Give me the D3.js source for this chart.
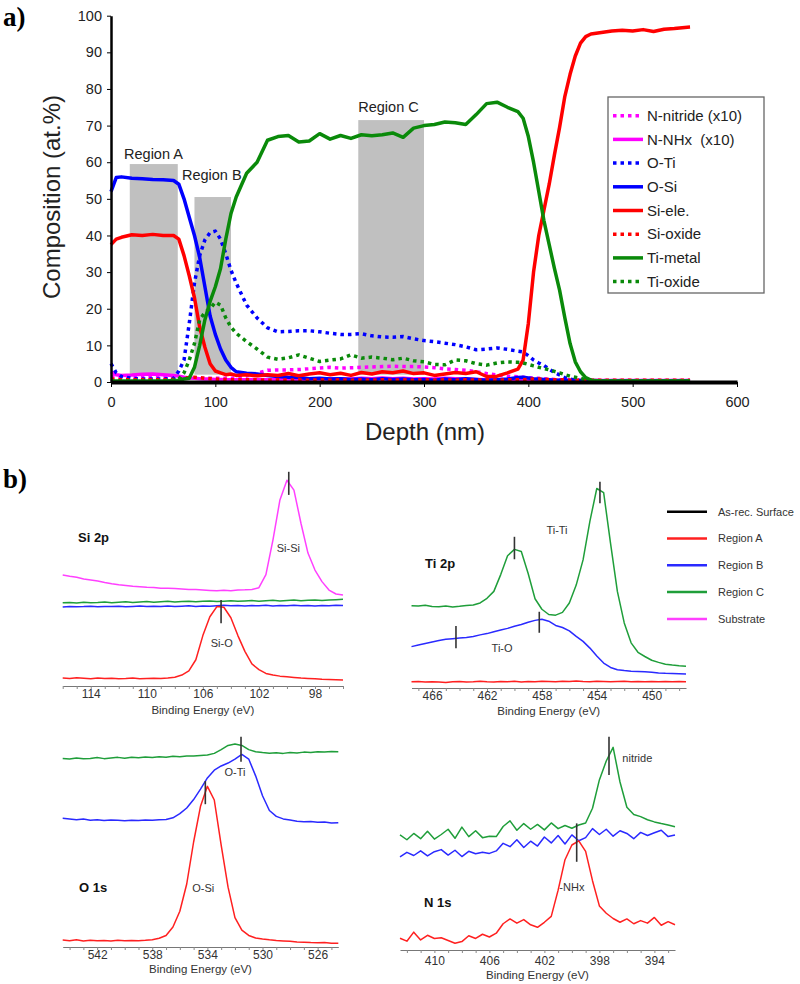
<!DOCTYPE html>
<html>
<head>
<meta charset="utf-8">
<script src="https://cdn.jsdelivr.net/npm/d3@7"></script>
<style>
  body { margin: 0; background: #fff; }
  svg { display: block; font-family: 'Liberation Sans', Arial, sans-serif; }
</style>
</head>
<body>
<div id="chart"></div>
<script>
// ---- a) depth profile ----
const depth = [0, 5, 10, 20, 30, 40, 50, 60,
  65, 70, 75, 80, 85, 90, 95, 100, 105, 110, 115, 120,
  130, 140, 150, 160, 170, 180, 190, 200, 210, 220, 230, 240, 250, 260, 270, 280, 290, 300, 310, 320, 330, 340, 350, 360, 370, 380, 390,
  395, 400, 405, 410, 415, 420, 425, 430, 435, 440, 445, 450, 455, 460,
  470, 480, 490, 500, 510, 520, 530, 540, 550, 555];

const nNitride = [1.5, 1.3, 1.2, 1.2, 1.2, 1.2, 1.2, 1.2,
  1.0, 1.0, 1.0, 1.0, 1.0, 1.0, 1.0, 1.0, 1.0, 1.0, 1.0, 1.2,
  1.6, 2.4, 3.2, 3.3, 3.3, 3.4, 3.6, 3.8, 4.0, 3.8, 3.9, 4.0, 4.1, 4.2, 4.3, 4.2, 4.2, 4.1, 3.9, 3.6, 3.4, 3.2, 2.8, 2.3, 1.9, 1.6, 1.4,
  1.3, 1.2, 1.1, 1.0, 0.9, 0.8, 0.7, 0.6, 0.5, 0.5, 0.4, 0.4, 0.4, 0.4,
  0.4, 0.4, 0.4, 0.4, 0.4, 0.4, 0.4, 0.4, 0.4, 0.4];
const nNHx = [2.8, 2.0, 1.8, 1.9, 2.1, 2.2, 2.0, 1.8,
  1.6, 1.3, 1.1, 1.0, 0.9, 0.8, 0.8, 0.7, 0.7, 0.6, 0.6, 0.6,
  0.6, 0.7, 0.6, 0.7, 0.8, 0.7, 0.8, 0.9, 0.8, 0.9, 0.8, 1.0, 0.9, 1.1, 0.9, 1.0, 0.8, 0.9, 0.8, 1.0, 0.9, 0.8, 0.7, 0.6, 0.6, 0.5, 0.5,
  0.5, 0.5, 0.5, 0.5, 0.5, 0.5, 0.5, 0.5, 0.5, 0.5, 0.5, 0.5, 0.5, 0.5,
  0.4, 0.4, 0.4, 0.4, 0.4, 0.4, 0.4, 0.4, 0.4, 0.4];
const oTi = [5.0, 2.5, 1.5, 1.0, 0.8, 0.8, 0.8, 1.0,
  3.0, 6.0, 16.0, 27.0, 34.5, 38.8, 40.8, 41.2, 39.0, 35.0, 30.5, 27.0,
  21.0, 17.5, 14.8, 13.7, 13.8, 14.0, 14.0, 13.7, 13.3, 13.0, 13.0, 13.2, 12.6, 12.3, 12.2, 12.4, 11.8, 11.3, 11.0, 10.6, 10.2, 9.6, 8.8, 9.0, 9.3, 8.9, 8.4,
  8.2, 7.2, 6.0, 5.2, 4.5, 3.5, 2.6, 1.9, 1.2, 0.8, 0.5, 0.4, 0.3, 0.3,
  0.3, 0.3, 0.3, 0.3, 0.3, 0.3, 0.3, 0.3, 0.3, 0.3];
const oSi = [52.0, 55.8, 56.0, 55.6, 55.5, 55.3, 55.2, 55.0,
  54.0, 50.0, 45.0, 40.0, 34.0, 26.0, 18.0, 13.0, 9.0, 6.0, 4.0, 2.8,
  2.4, 2.2, 1.8, 1.5, 1.3, 1.2, 0.9, 1.0, 0.8, 0.9, 0.7, 0.8, 0.6, 0.9, 0.7, 0.8, 0.6, 0.7, 0.5, 0.8, 0.6, 0.9, 0.7, 0.5, 0.6, 0.8, 1.2,
  1.3, 1.1, 0.9, 0.8, 0.7, 0.6, 0.5, 0.5, 0.4, 0.4, 0.3, 0.3, 0.3, 0.3,
  0.3, 0.3, 0.3, 0.3, 0.3, 0.3, 0.3, 0.3, 0.3, 0.3];
const siEle = [37.5, 39.0, 39.5, 40.2, 40.0, 40.3, 40.0, 40.0,
  39.0, 34.5, 29.0, 23.0, 15.0, 9.5, 5.0, 3.0, 2.5, 2.0, 2.2, 1.8,
  2.0, 1.7, 2.0, 1.8, 2.3, 1.7, 2.2, 2.5, 2.0, 2.4, 1.8, 2.6, 2.2, 2.8, 2.5, 3.0, 2.3, 2.5, 1.8, 2.2, 2.6, 2.3, 2.8, 1.5, 1.6, 2.5, 3.5,
  6.0, 16.0, 30.0, 40.0, 47.0, 54.0, 62.0, 69.6, 78.0, 84.0, 89.0, 92.5, 94.3, 95.0,
  95.4, 95.8, 96.0, 95.8, 96.2, 95.7, 96.3, 96.5, 96.8, 96.9];
const siOxide = [0.8, 0.7, 0.6, 0.6, 0.6, 0.6, 0.6, 0.7,
  0.8, 1.0, 1.2, 1.3, 1.2, 1.0, 0.9, 0.8, 0.7, 0.7, 0.6, 0.6,
  0.6, 0.6, 0.5, 0.6, 0.5, 0.6, 0.5, 0.6, 0.5, 0.6, 0.5, 0.6, 0.5, 0.6, 0.5, 0.6, 0.5, 0.6, 0.5, 0.6, 0.5, 0.6, 0.5, 0.6, 0.5, 0.6, 0.6,
  0.6, 0.7, 0.8, 0.8, 0.7, 0.7, 0.6, 0.6, 0.6, 0.5, 0.5, 0.5, 0.5, 0.5,
  0.5, 0.5, 0.5, 0.5, 0.5, 0.5, 0.5, 0.5, 0.5, 0.5];
const tiMetal = [0.3, 0.3, 0.3, 0.3, 0.3, 0.3, 0.3, 0.4,
  0.5, 0.8, 1.0, 4.0, 10.0, 17.0, 22.0, 26.0, 31.0, 39.0, 46.0, 50.5,
  57.0, 60.0, 66.0, 67.0, 67.3, 65.5, 65.8, 67.8, 66.3, 67.3, 66.5, 67.5, 67.2, 67.5, 68.0, 66.8, 69.3, 70.0, 70.3, 71.0, 70.8, 70.3, 73.0, 76.0, 76.4, 75.0, 73.8,
  72.0, 67.0, 60.0, 52.0, 44.0, 37.5, 31.0, 25.0, 17.5, 10.5, 5.5, 2.8, 1.2, 0.5,
  0.3, 0.3, 0.3, 0.3, 0.3, 0.3, 0.3, 0.3, 0.3, 0.3];
const tiOxide = [0.3, 0.3, 0.3, 0.3, 0.3, 0.3, 0.3, 0.5,
  0.8, 2.5, 6.0, 10.5, 17.0, 19.0, 20.0, 21.8, 21.0, 17.5, 15.0, 13.3,
  11.0, 9.0, 6.8, 6.2, 6.6, 7.4, 6.5, 5.6, 6.0, 6.3, 7.4, 6.5, 6.8, 6.5, 6.1, 6.5, 5.8, 5.5, 4.8, 4.7, 6.0, 5.8, 5.0, 4.6, 5.2, 5.5, 5.4,
  5.2, 4.8, 4.4, 4.0, 3.7, 3.3, 2.9, 2.5, 2.0, 1.6, 1.3, 1.0, 0.6, 0.4,
  0.3, 0.3, 0.3, 0.3, 0.3, 0.3, 0.3, 0.3, 0.3, 0.3];

const seriesNames = ['N-nitride (x10)', 'N-NHx  (x10)', 'O-Ti', 'O-Si', 'Si-ele.', 'Si-oxide', 'Ti-metal', 'Ti-oxide'];
const seriesValues = [nNitride, nNHx, oTi, oSi, siEle, siOxide, tiMetal, tiOxide];
const seriesColors = ['#ff00ff', '#ff00ff', '#0000ff', '#0000ff', '#ff0000', '#ff0000', '#0a8a0a', '#0a8a0a'];
const seriesDotted = [true, false, true, false, false, true, false, true];

const regionNames = ['Region A', 'Region B', 'Region C'];
const regionStart = [18, 80, 237];
const regionEnd = [64, 115, 300];
const regionTop = [59.5, 50.5, 71.5];
const regionLabelAt = [[12.5, 60.9], [68, 55.1], [237, 73.8]];

const depthTicks = [0, 100, 200, 300, 400, 500, 600];
const compTicks = [0, 10, 20, 30, 40, 50, 60, 70, 80, 90, 100];

// ---- b) XPS spectra ----
const siEnergy = [116, 115.5, 115, 114.5, 114, 113.5, 113, 112.5, 112, 111.5, 111, 110.5, 110, 109.5, 109, 108.5, 108, 107.5, 107, 106.5,
  106, 105.5, 105, 104.5, 104, 103.5, 103, 102.5, 102, 101.5, 101, 100.5, 100, 99.5, 99, 98.5, 98, 97.5, 97, 96.5, 96];
const siRegionA = [3.8, 3.6, 3.9, 3.7, 3.5, 3.8, 3.6, 3.7, 3.5, 3.6, 3.8, 3.5, 3.6, 3.7, 3.6, 3.8, 4.2, 5.2, 7.2, 12.5,
  24.0, 33.0, 37.8, 37.5, 32.5, 24.0, 16.5, 10.5, 7.8, 6.0, 5.2, 4.7, 4.4, 4.1, 3.8, 3.6, 3.4, 3.2, 3.1, 3.0, 2.9];
const siRegionB = [37.6, 37.9, 37.7, 37.8, 38.0, 37.7, 37.9, 37.8, 38.0, 37.7, 37.9, 38.1, 37.8, 38.0, 37.9, 38.1, 37.8, 38.0, 38.2, 37.9,
  38.1, 38.0, 38.2, 38.4, 38.2, 38.3, 38.1, 38.3, 38.2, 38.4, 38.1, 38.3, 38.2, 38.4, 38.2, 38.3, 38.1, 38.3, 38.2, 38.4, 38.3];
const siRegionC = [39.6, 39.8, 39.5, 39.9, 39.7, 39.8, 40.0, 39.7, 39.9, 40.1, 39.8, 40.0, 40.2, 39.9, 40.1, 40.3, 40.0, 40.2, 40.4, 40.1,
  40.3, 40.5, 40.2, 40.4, 40.6, 40.3, 40.5, 40.7, 40.4, 40.6, 40.8, 40.5, 40.7, 40.9, 40.6, 40.8, 41.0, 40.7, 40.9, 41.1, 41.3];
const siSubstrate = [52.9, 52.3, 51.8, 51.0, 50.5, 50.0, 49.3, 48.7, 48.2, 47.9, 47.5, 47.3, 47.0, 46.9, 46.6, 46.6, 46.4, 46.2, 46.0, 45.9,
  45.7, 45.5, 45.3, 45.6, 45.4, 45.7, 45.8, 46.0, 46.8, 53.0, 69.5, 88.6, 98.0, 93.3, 77.5, 63.3, 55.2, 49.7, 45.7, 43.8, 43.3];

const tiEnergy = [467.5, 467, 466.5, 466, 465.5, 465, 464.5, 464, 463.5, 463, 462.5, 462, 461.5, 461, 460.5, 460, 459.5, 459, 458.5, 458,
  457.5, 457, 456.5, 456, 455.5, 455, 454.5, 454, 453.5, 453, 452.5, 452, 451.5, 451, 450.5, 450, 449.5, 449, 448.5, 448, 447.5];
const tiRegionA = [3.0, 3.1, 2.9, 3.0, 2.8, 2.6, 3.0, 3.1, 2.9, 3.0, 3.2, 3.0, 2.9, 3.1, 3.0, 3.2, 2.9, 3.1, 3.0, 3.2,
  3.1, 3.0, 3.2, 3.1, 3.3, 3.1, 3.0, 3.2, 3.1, 3.0, 3.1, 3.2, 3.0, 3.1, 3.0, 3.1, 3.0, 3.1, 3.0, 3.1, 3.0];
const tiRegionB = [19.7, 20.5, 21.2, 21.9, 22.6, 23.2, 23.5, 23.8, 24.1, 24.5, 25.3, 25.9, 26.8, 27.6, 28.4, 29.4, 30.2, 31.3, 32.2, 32.7,
  31.8, 29.8, 28.8, 27.2, 24.6, 22.2, 19.0, 15.2, 11.9, 9.8, 8.7, 8.3, 8.0, 7.9, 7.7, 7.5, 7.2, 7.0, 6.9, 6.8, 6.7];
const tiRegionC = [39.2, 39.0, 39.4, 38.8, 38.7, 39.1, 38.6, 38.9, 39.3, 39.5, 40.5, 42.7, 46.0, 54.0, 63.0, 66.0, 65.0, 54.5, 42.5, 37.5,
  35.0, 34.7, 36.0, 40.5, 49.0, 61.0, 79.5, 95.0, 93.0, 69.0, 46.0, 31.0, 21.5, 17.0, 15.0, 13.2, 12.2, 11.3, 10.9, 10.6, 10.4];

const oEnergy = [544.5, 544, 543.5, 543, 542.5, 542, 541.5, 541, 540.5, 540, 539.5, 539, 538.5, 538, 537.5, 537, 536.5, 536, 535.5, 535,
  534.5, 534, 533.5, 533, 532.5, 532, 531.5, 531, 530.5, 530, 529.5, 529, 528.5, 528, 527.5, 527, 526.5, 526, 525.5, 525, 524.5];
const oRegionA = [3.3, 3.0, 3.4, 2.9, 3.2, 3.0, 3.1, 2.9, 3.2, 3.0, 3.1, 3.0, 3.2, 3.5, 4.2, 5.5, 9.5, 17.0, 30.0, 50.0,
  67.0, 76.5, 70.0, 48.5, 28.5, 14.0, 8.0, 5.5, 4.3, 3.8, 3.4, 3.1, 2.9, 2.7, 2.4, 2.3, 2.1, 2.0, 2.1, 1.8, 1.8];
const oRegionB = [61.3, 61.0, 60.6, 60.9, 60.4, 60.6, 60.2, 60.5, 60.3, 60.1, 60.4, 60.2, 60.5, 60.3, 60.6, 60.7, 61.5, 63.5, 66.2, 70.2,
  75.2, 80.5, 84.2, 86.2, 87.6, 89.5, 91.7, 89.5, 81.5, 72.0, 65.0, 62.2, 61.0, 60.5, 59.9, 59.6, 59.8, 59.4, 59.5, 59.0, 59.2];
const oRegionC = [89.8, 89.5, 90.0, 89.6, 89.8, 90.2, 89.7, 90.0, 90.3, 89.9, 90.4, 90.1, 90.5, 90.2, 90.6, 90.4, 90.8, 90.6, 91.0, 90.9,
  91.2, 91.4, 92.2, 94.0, 96.0, 96.7, 96.0, 94.0, 93.0, 92.6, 92.3, 92.5, 92.2, 92.6, 92.4, 92.8, 92.6, 93.0, 92.8, 93.1, 93.0];

const nEnergy = [412.5, 412, 411.5, 411, 410.5, 410, 409.5, 409, 408.5, 408, 407.5, 407, 406.5, 406, 405.5, 405, 404.5, 404, 403.5, 403,
  402.5, 402, 401.5, 401, 400.5, 400, 399.5, 399, 398.5, 398, 397.5, 397, 396.5, 396, 395.5, 395, 394.5, 394, 393.5, 393, 392.5];
const nRegionA = [5.6, 4.2, 8.5, 4.8, 7.0, 5.5, 5.8, 4.5, 3.2, 4.0, 6.8, 5.5, 7.5, 6.2, 8.0, 12.5, 14.8, 12.8, 14.5, 12.0,
  10.8, 13.2, 16.0, 28.5, 43.0, 50.0, 52.0, 47.0, 33.0, 21.0, 17.5, 15.0, 13.2, 14.8, 12.5, 14.0, 12.8, 15.5, 11.8, 13.5, 12.0];
const nRegionB = [44.4, 46.5, 45.0, 47.2, 44.8, 46.8, 47.8, 45.2, 47.5, 44.5, 47.0, 45.8, 46.5, 46.0, 47.2, 50.8, 49.2, 52.5, 48.8, 51.8,
  49.5, 53.8, 51.0, 54.5, 50.5, 54.8, 52.0, 53.5, 57.8, 55.0, 57.5, 54.2, 56.8, 55.5, 53.0, 56.0, 54.5, 55.8, 57.0, 54.0, 54.8];
const nRegionC = [54.8, 52.5, 55.5, 53.0, 56.5, 52.8, 55.0, 57.5, 53.2, 58.5, 54.0, 56.8, 53.5, 54.2, 54.0, 58.8, 61.5, 57.0, 60.2, 57.5,
  59.8, 57.2, 60.5, 57.8, 59.3, 58.0, 59.5, 60.5, 67.5, 81.0, 90.0, 96.5, 80.0, 68.0, 64.5, 63.5, 62.0, 61.0, 60.2, 59.5, 58.7];

// peak markers: [energy, low, high]
const siMarkers = [[99.87, 91, 102], [104.7, 29.9, 41]];
const tiMarkers = [[460.0, 61.3, 72.0], [453.77, 88.0, 98.2], [464.26, 18.9, 29.5], [458.19, 26.3, 36.3]];
const oMarkers = [[531.56, 88.2, 100.1], [534.15, 68.0, 79.0]];
const nMarkers = [[397.3, 83.3, 101.6], [399.65, 42.0, 60.3]];

// peak labels: [text, energy, level, anchor]
const siLabels = [['Si-Si', 99.9, 65.7, 'middle'], ['Si-O', 104.65, 20.5, 'middle']];
const tiLabels = [['Ti-Ti', 456.9, 75.2, 'middle'], ['Ti-O', 460.9, 18.9, 'middle']];
const oLabels = [['O-Ti', 532.0, 83.5, 'middle'], ['O-Si', 534.3, 28, 'middle']];
const nLabels = [['nitride', 396.33, 91.3, 'start'], ['-NHx', 400.0, 30.1, 'middle']];

const siTicks = [114, 110, 106, 102, 98];
const tiTicks = [466, 462, 458, 454, 450];
const oTicks = [542, 538, 534, 530, 526];
const nTicks = [410, 406, 402, 398, 394];

const specNames = ['As-rec. Surface', 'Region A', 'Region B', 'Region C', 'Substrate'];
const specColors = ['#000000', '#ff2020', '#2a2aff', '#1f9e3a', '#ff40ff'];

const width = 800;
const height = 984;

document.addEventListener('DOMContentLoaded', () => {
  app();
});

function drawProfile(svg) {
  const x = d3.scaleLinear().domain([0, 600]).range([111, 737]);
  const y = d3.scaleLinear().domain([0, 100]).range([382, 15.7]);

  svg.append('g')
    .selectAll('rect')
    .data(regionNames)
    .enter()
    .append('rect')
    .attr('x', (d, i) => x(regionStart[i]))
    .attr('width', (d, i) => x(regionEnd[i]) - x(regionStart[i]))
    .attr('y', (d, i) => y(regionTop[i]))
    .attr('height', (d, i) => y(2) - y(regionTop[i]))
    .attr('fill', '#c0c0c0');

  svg.append('g')
    .selectAll('text')
    .data(regionNames)
    .enter()
    .append('text')
    .attr('x', (d, i) => x(regionLabelAt[i][0]))
    .attr('y', (d, i) => y(regionLabelAt[i][1]))
    .attr('font-size', '14.5px')
    .attr('fill', '#222')
    .text((d) => d);

  const line = d3.line()
    .x((d, i) => x(depth[i]))
    .y((d) => y(d));

  svg.append('g')
    .selectAll('path')
    .data(seriesValues)
    .enter()
    .append('path')
    .attr('d', (d) => line(d))
    .attr('fill', 'none')
    .attr('stroke', (d, i) => seriesColors[i])
    .attr('stroke-width', 3.5)
    .attr('stroke-linejoin', 'round')
    .attr('stroke-dasharray', (d, i) => (seriesDotted[i] ? '3.5,4' : null));

  const yAxis = d3.axisLeft(y).tickValues(compTicks).tickSize(4).tickSizeOuter(0).tickPadding(5);
  const gy = svg.append('g')
    .attr('transform', 'translate(111,0)')
    .call(yAxis);
  gy.select('.domain').attr('stroke-width', 2.5);
  gy.selectAll('text').attr('font-size', '14.5px').attr('fill', '#222');

  const xAxis = d3.axisBottom(x).tickValues(depthTicks).tickSize(5).tickSizeOuter(0).tickPadding(10);
  const gx = svg.append('g')
    .attr('transform', 'translate(0,382)')
    .call(xAxis);
  gx.select('.domain').attr('stroke-width', 4);
  gx.selectAll('text').attr('font-size', '14.5px').attr('fill', '#222');

  svg.append('text')
    .attr('transform', 'translate(60,197) rotate(-90)')
    .attr('text-anchor', 'middle')
    .attr('font-size', '24px')
    .attr('fill', '#222')
    .text('Composition (at.%)');

  svg.append('text')
    .attr('x', 425)
    .attr('y', 440)
    .attr('text-anchor', 'middle')
    .attr('font-size', '24px')
    .attr('fill', '#222')
    .text('Depth (nm)');

  // legend
  const legend = svg.append('g');
  legend.append('rect')
    .attr('x', 608).attr('y', 97)
    .attr('width', 156).attr('height', 196)
    .attr('fill', '#fff')
    .attr('stroke', '#666')
    .attr('stroke-width', 1.3);
  const rows = legend.selectAll('g.row')
    .data(seriesNames)
    .enter()
    .append('g')
    .attr('class', 'row')
    .attr('transform', (d, i) => `translate(0,${115.7 + i * 23.7})`);
  rows.append('line')
    .attr('x1', 613).attr('x2', 643)
    .attr('stroke', (d, i) => seriesColors[i])
    .attr('stroke-width', 3.5)
    .attr('stroke-dasharray', (d, i) => (seriesDotted[i] ? '3.5,4' : null));
  rows.append('text')
    .attr('x', 647)
    .attr('dy', '0.35em')
    .attr('font-size', '15px')
    .attr('fill', '#222')
    .style('white-space', 'pre')
    .text((d) => d);
}

function drawSpectrum(svg, panel) {
  const xs = d3.scaleLinear().domain(panel.domain).range(panel.xRange);
  const ys = d3.scaleLinear().domain([0, 100]).range([panel.axisY, panel.axisY - 210]);
  const g = svg.append('g');

  const line = d3.line()
    .x((d, i) => xs(panel.energy[i]))
    .y((d) => ys(d));

  g.selectAll('path.spec')
    .data(panel.series)
    .enter()
    .append('path')
    .attr('class', 'spec')
    .attr('d', (d) => line(d.values))
    .attr('fill', 'none')
    .attr('stroke', (d) => d.color)
    .attr('stroke-width', 1.5)
    .attr('stroke-linejoin', 'round');

  g.selectAll('line.mark')
    .data(panel.markers)
    .enter()
    .append('line')
    .attr('class', 'mark')
    .attr('x1', (d) => xs(d[0]))
    .attr('x2', (d) => xs(d[0]))
    .attr('y1', (d) => ys(d[1]))
    .attr('y2', (d) => ys(d[2]))
    .attr('stroke', '#333')
    .attr('stroke-width', 1.6);

  g.selectAll('text.peak')
    .data(panel.labels)
    .enter()
    .append('text')
    .attr('class', 'peak')
    .attr('x', (d) => xs(d[1]))
    .attr('y', (d) => ys(d[2]))
    .attr('dy', '0.35em')
    .attr('text-anchor', (d) => d[3])
    .attr('font-size', '11px')
    .attr('fill', '#333')
    .text((d) => d[0]);

  const lo = Math.ceil(Math.min(...panel.domain));
  const hi = Math.floor(Math.max(...panel.domain));
  const minor = d3.range(lo, hi + 1, 1);
  const axis = d3.axisBottom(xs)
    .tickValues(minor)
    .tickSize(3)
    .tickSizeOuter(0)
    .tickPadding(panel.tickPad)
    .tickFormat((d) => (panel.ticks.includes(d) ? d : ''));
  const ga = g.append('g')
    .attr('transform', `translate(0,${panel.axisY})`)
    .call(axis);
  ga.select('.domain').attr('stroke', '#777').attr('stroke-width', 1.2);
  ga.selectAll('.tick line').attr('stroke', '#888');
  ga.selectAll('text').attr('font-size', '12px').attr('fill', '#333');

  g.append('text')
    .attr('x', (panel.xRange[0] + panel.xRange[1]) / 2)
    .attr('y', panel.axisY + panel.titleGap)
    .attr('text-anchor', 'middle')
    .attr('font-size', '11.5px')
    .attr('fill', '#333')
    .text('Binding Energy (eV)');

  g.append('text')
    .attr('x', panel.titleAt[0])
    .attr('y', panel.titleAt[1])
    .attr('dy', '0.35em')
    .attr('font-size', '13px')
    .attr('font-weight', 'bold')
    .attr('fill', '#111')
    .text(panel.title);
}

function app() {
  const svg = d3.select('#chart')
    .append('svg')
    .attr('width', width)
    .attr('height', height);

  svg.append('text')
    .attr('x', 3).attr('y', 26)
    .attr('font-family', "'Liberation Serif', serif")
    .attr('font-weight', 'bold')
    .attr('font-size', '27px')
    .text('a)');

  svg.append('text')
    .attr('x', 3).attr('y', 488)
    .attr('font-family', "'Liberation Serif', serif")
    .attr('font-weight', 'bold')
    .attr('font-size', '27px')
    .text('b)');

  drawProfile(svg);

  const red = specColors[1];
  const blue = specColors[2];
  const green = specColors[3];
  const magenta = specColors[4];

  drawSpectrum(svg, {
    title: 'Si 2p', titleAt: [78, 537],
    energy: siEnergy, domain: [116, 96], xRange: [62.7, 343], axisY: 686,
    ticks: siTicks, tickPad: 0, titleGap: 28,
    series: [
      { values: siRegionB, color: blue },
      { values: siRegionC, color: green },
      { values: siRegionA, color: red },
      { values: siSubstrate, color: magenta },
    ],
    markers: siMarkers, labels: siLabels,
  });

  drawSpectrum(svg, {
    title: 'Ti 2p', titleAt: [425, 563],
    energy: tiEnergy, domain: [467.5, 447.5], xRange: [411.5, 686], axisY: 688,
    ticks: tiTicks, tickPad: 0, titleGap: 27,
    series: [
      { values: tiRegionA, color: red },
      { values: tiRegionB, color: blue },
      { values: tiRegionC, color: green },
    ],
    markers: tiMarkers, labels: tiLabels,
  });

  drawSpectrum(svg, {
    title: 'O 1s', titleAt: [79, 887],
    energy: oEnergy, domain: [544.5, 524.5], xRange: [62.7, 338.3], axisY: 947,
    ticks: oTicks, tickPad: 0, titleGap: 26,
    series: [
      { values: oRegionC, color: green },
      { values: oRegionB, color: blue },
      { values: oRegionA, color: red },
    ],
    markers: oMarkers, labels: oLabels,
  });

  drawSpectrum(svg, {
    title: 'N 1s', titleAt: [424, 902],
    energy: nEnergy, domain: [412.5, 392.5], xRange: [400, 675], axisY: 950,
    ticks: nTicks, tickPad: 3, titleGap: 29,
    series: [
      { values: nRegionC, color: green },
      { values: nRegionB, color: blue },
      { values: nRegionA, color: red },
    ],
    markers: nMarkers, labels: nLabels,
  });

  // spectra legend
  const leg = svg.append('g')
    .selectAll('g')
    .data(specNames)
    .enter()
    .append('g')
    .attr('transform', (d, i) => `translate(0,${511.7 + i * 26.8})`);
  leg.append('line')
    .attr('x1', 667).attr('x2', 707)
    .attr('stroke', (d, i) => specColors[i])
    .attr('stroke-width', 2.5);
  leg.append('text')
    .attr('x', 718)
    .attr('dy', '0.35em')
    .attr('font-size', '11px')
    .attr('fill', '#333')
    .text((d) => d);
}
</script>
</body>
</html>
